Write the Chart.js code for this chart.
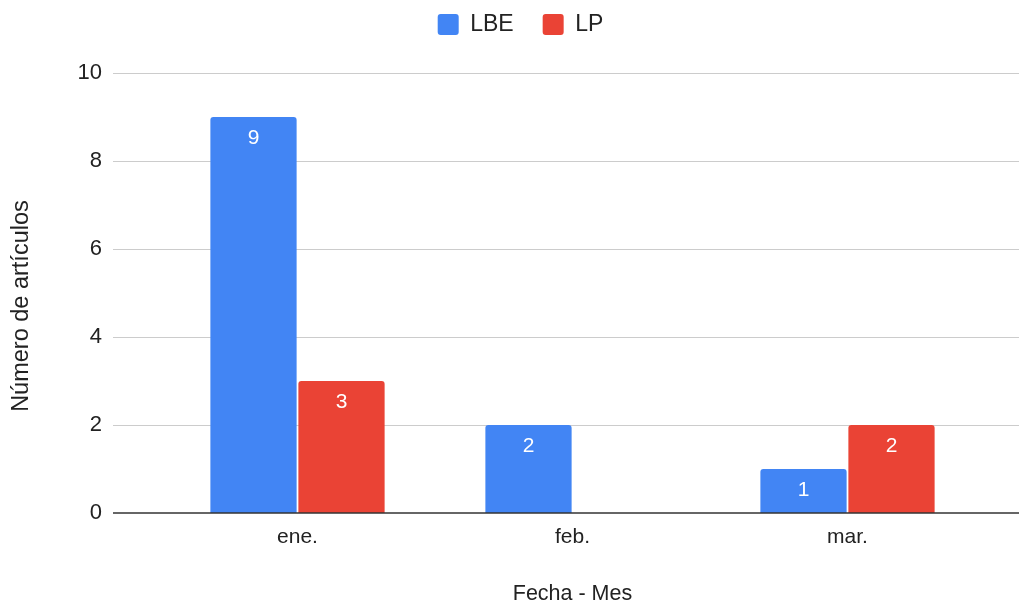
<!DOCTYPE html>
<html>
<head>
<meta charset="utf-8">
<script src="https://cdn.jsdelivr.net/npm/chart.js@4.4.1/dist/chart.umd.min.js"></script>
<style>
  body { margin: 0; background: #fff; }
  #chart { display: block; }
</style>
</head>
<body>
<canvas id="chart" width="1019" height="605"></canvas>
<script>
const months = ["ene.", "feb.", "mar."];
const lbeValues = [9, 2, 1];
const lpValues = [3, 0, 2];
const yTicks = [0, 2, 4, 6, 8, 10];

const FONT = "'Liberation Sans', Arial, sans-serif";

// horizontal grid + base line across the full plot width (wider than the bars area)
const gridPlugin = {
  id: "fullGrid",
  beforeDatasetsDraw(chart) {
    const ctx = chart.ctx;
    const y = chart.scales.y;
    ctx.save();
    ctx.strokeStyle = "#cccccc";
    ctx.lineWidth = 1;
    yTicks.forEach(v => {
      if (v === 0) return;
      const py = Math.round(y.getPixelForValue(v)) + 0.5;
      ctx.beginPath();
      ctx.moveTo(113, py);
      ctx.lineTo(1019, py);
      ctx.stroke();
    });
    ctx.restore();
  },
  afterDatasetsDraw(chart) {
    const ctx = chart.ctx;
    const py = chart.scales.y.getPixelForValue(0);
    ctx.save();
    ctx.strokeStyle = "#333333";
    ctx.lineWidth = 1.5;
    ctx.beginPath();
    ctx.moveTo(113, py);
    ctx.lineTo(1019, py);
    ctx.stroke();
    ctx.restore();
  }
};

// white value labels inside the top of each bar
const valueLabels = {
  id: "valueLabels",
  afterDatasetsDraw(chart) {
    const ctx = chart.ctx;
    ctx.save();
    ctx.fillStyle = "#ffffff";
    ctx.font = "21px " + FONT;
    ctx.textAlign = "center";
    ctx.textBaseline = "middle";
    chart.data.datasets.forEach((ds, i) => {
      chart.getDatasetMeta(i).data.forEach((bar, j) => {
        if (!ds.data[j]) return;
        ctx.fillText(String(ds.data[j]), bar.x, bar.y + 21);
      });
    });
    ctx.restore();
  }
};

// legend block takes fixed height above the plot; items nudged into place
const legendTweak = {
  id: "legendTweak",
  beforeInit(chart) {
    const legend = chart.legend;
    const fit = legend.fit;
    legend.fit = function () {
      fit.call(this);
      this.height = 73;
    };
    const draw = legend.draw;
    legend.draw = function () {
      this.ctx.save();
      this.ctx.translate(28, -16);
      draw.apply(this, arguments);
      this.ctx.restore();
    };
  }
};

new Chart(document.getElementById("chart"), {
  type: "bar",
  data: {
    labels: months,
    datasets: [
      {
        label: "LBE",
        data: lbeValues,
        backgroundColor: "#4285f4",
        borderRadius: { topLeft: 3, topRight: 3 },
        borderSkipped: "start",
        categoryPercentage: 0.64,
        barPercentage: 0.98
      },
      {
        label: "LP",
        data: lpValues,
        backgroundColor: "#ea4335",
        borderRadius: { topLeft: 3, topRight: 3 },
        borderSkipped: "start",
        categoryPercentage: 0.64,
        barPercentage: 0.98
      }
    ]
  },
  options: {
    responsive: false,
    animation: false,
    layout: { padding: { top: 0, right: 34, bottom: 0, left: 0 } },
    plugins: {
      tooltip: { enabled: false },
      legend: {
        position: "top",
        labels: {
          boxWidth: 21,
          boxHeight: 21,
          useBorderRadius: true,
          borderRadius: 3,
          padding: 29,
          color: "#222",
          font: { family: FONT, size: 23 }
        }
      }
    },
    scales: {
      x: {
        grid: { display: false, drawTicks: false },
        border: { display: false },
        ticks: { color: "#222", padding: 12, font: { family: FONT, size: 21 } },
        title: {
          display: true,
          text: "Fecha - Mes",
          color: "#222",
          padding: { top: 0, bottom: -2 },
          font: { family: FONT, size: 21.5 }
        },
        afterFit(scale) { scale.height = 92; }
      },
      y: {
        min: 0,
        max: 10,
        grid: { display: false, drawTicks: false },
        border: { display: false },
        ticks: { stepSize: 2, color: "#222", padding: 58, font: { family: FONT, size: 22 } },
        title: {
          display: true,
          text: "Número de artículos    ",
          color: "#222",
          padding: { top: 7, bottom: 0 },
          font: { family: FONT, size: 23.5 }
        },
        afterFit(scale) { scale.width = 160; }
      }
    }
  },
  plugins: [gridPlugin, valueLabels, legendTweak]
});
</script>
</body>
</html>
